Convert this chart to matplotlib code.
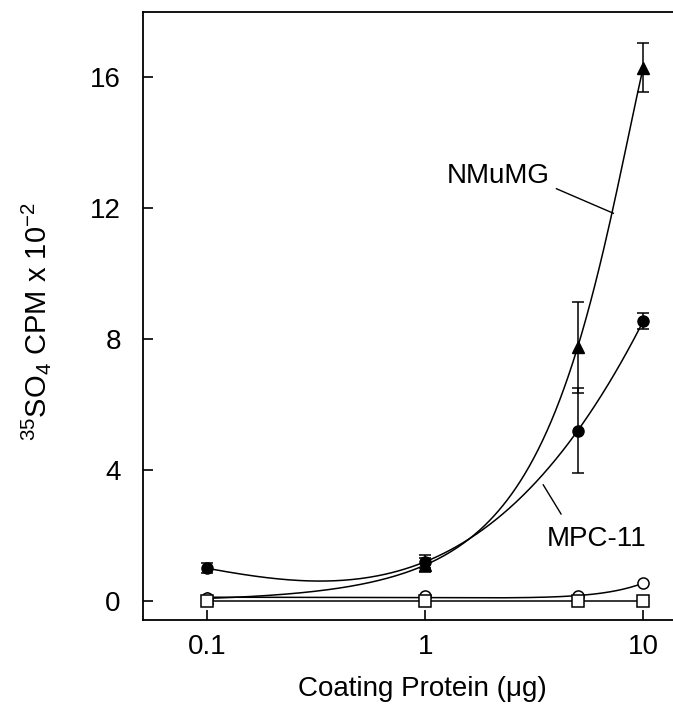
import matplotlib
matplotlib.use("Agg")
import matplotlib.pyplot as plt
import numpy as np

plt.rcParams['font.family'] = ['Liberation Sans', 'DejaVu Sans']
plt.rcParams['mathtext.default'] = 'regular'

# coating protein (ug)
dose = [0.1, 1, 5, 10]

# NMuMG, filled triangles
nmumg = [0.08, 1.1, 7.75, 16.3]
nmumg_err = [0.05, 0.2, 1.4, 0.75]

# MPC-11, filled circles
mpc = [1.0, 1.2, 5.2, 8.55]
mpc_err = [0.15, 0.2, 1.3, 0.25]

# open circles / open squares (controls)
open_circ = [0.08, 0.15, 0.15, 0.55]
open_sq = [0.0, 0.0, 0.0, 0.0]

yticks = [0, 4, 8, 12, 16]
xticks = [0.1, 1, 10]
xticklabels = ['0.1', '1', '10']


def fit_line(x, y, deg, logx=False):
    # polynomial fit, either against dose or log10(dose)
    x = np.asarray(x, dtype=float)
    xs = np.logspace(np.log10(x.min()), np.log10(x.max()), 200)
    if logx:
        p = np.polyfit(np.log10(x), y, deg)
        return xs, np.polyval(p, np.log10(xs))
    p = np.polyfit(x, y, deg)
    return xs, np.polyval(p, xs)


fig = plt.figure(figsize=(6.73, 7.08), dpi=100)
ax = fig.add_axes([0.2125, 0.1243, 0.7875, 0.8587])

# fitted curves
for ys_data, deg, logx in [(nmumg, 3, False), (mpc, 3, True),
                           (open_circ, 2, False), (open_sq, 1, False)]:
    xs, ys = fit_line(dose, ys_data, deg, logx)
    ax.plot(xs, ys, color='black', lw=1.1, zorder=1)

ax.errorbar(dose, nmumg, yerr=nmumg_err, fmt='^', color='black', ms=8,
            capsize=4, elinewidth=1.1, capthick=1.1, zorder=3)
ax.errorbar(dose, mpc, yerr=mpc_err, fmt='o', color='black', ms=8,
            capsize=4, elinewidth=1.1, capthick=1.1, zorder=3)
ax.plot(dose, open_circ, 'o', mfc='white', mec='black', ms=8, mew=1.1, zorder=4)
ax.plot(dose, open_sq, 's', mfc='white', mec='black', ms=8, mew=1.1, zorder=4)

ax.set_xscale('log')
ax.set_xlim(0.0508, 13.7)
ax.set_ylim(-0.58, 18.0)
ax.set_xticks(xticks)
ax.set_xticklabels(xticklabels)
ax.xaxis.set_minor_locator(matplotlib.ticker.NullLocator())
ax.set_yticks(yticks)

ax.tick_params(axis='both', direction='in', length=7, width=1.2, labelsize=20)
ax.tick_params(axis='y', pad=16)
ax.tick_params(axis='x', pad=10)

ax.spines['right'].set_visible(False)
for s in ['left', 'bottom', 'top']:
    ax.spines[s].set_linewidth(1.3)

ax.set_xlabel('Coating Protein (μg)', fontsize=20)
ax.xaxis.set_label_coords(0.528, -0.092)
ax.set_ylabel('$^{35}$SO$_4$ CPM x 10$^{-2}$', fontsize=21)
ax.yaxis.set_label_coords(-0.17, 0.49)

# labels with leader lines
ax.text(2.16, 13.0, 'NMuMG', fontsize=20, ha='center', va='center')
ax.plot([4.0, 7.3], [12.6, 11.85], color='black', lw=1.0)
ax.text(6.1, 1.9, 'MPC-11', fontsize=20, ha='center', va='center')
ax.plot([3.48, 4.2], [3.55, 2.66], color='black', lw=1.0)

fig.savefig('out.png', dpi=100)
